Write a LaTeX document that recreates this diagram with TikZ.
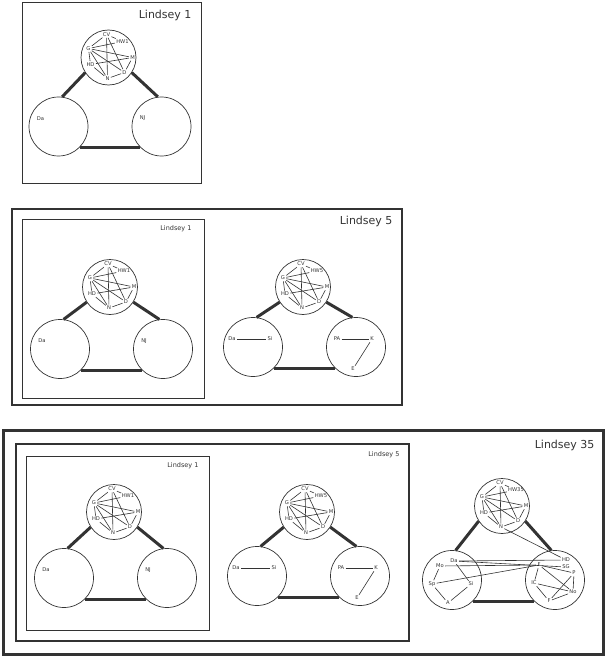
\documentclass[tikz,border=0pt]{standalone}
\usepackage{fontspec}
\setmainfont{DejaVu Sans}
\usetikzlibrary{calc}
\colorlet{ink}{black!80}

% hub circle with the seven people of the core group
\newcommand{\hubcluster}[4]{%
  \begin{scope}[shift={(#2,#3)}]
    \node[hub] (#1) at (0,0) {};
    \node[tag] (#1-CV) at (-2,-23) {CV};
    \node[tag] (#1-HW) at (14,-16) {#4};
    \node[tag] (#1-G) at (-20,-9) {G};
    \node[tag] (#1-M) at (24,0) {M};
    \node[tag] (#1-HD) at (-18,7) {HD};
    \node[tag] (#1-D) at (16,15) {D};
    \node[tag] (#1-N) at (-1,21) {N};
  \end{scope}
  \foreach \a/\b in {CV/HW,CV/G,CV/D,CV/N,G/HW,G/M,G/D,G/N,G/HD,HD/M,HD/N,N/D,D/M}
    \draw[link] (#1-\a) -- (#1-\b);
}
% hub plus two lower circles
\newcommand{\triad}[5]{%
  \hubcluster{#1-t}{#2}{#3}{#5}
  \node[pod] (#1-l) at (#2-50,#3+#4) {};
  \node[pod] (#1-r) at (#2+53,#3+#4) {};
  \draw[bond] (#1-t.-147) -- (#1-l.83);
  \draw[bond] (#1-t.-33) -- (#1-r.97);
  \draw[bond] (#1-l.-45) -- (#1-r.-135);
}
\newcommand{\lindseyone}[4]{%
  \triad{#1}{#2}{#3}{#4}{HW1}
  \node[tag] (#1-Da) at ($(#1-l)+(-18,-8)$) {Da};
  \node[tag] (#1-NJ) at ($(#1-r)+(-19,-8)$) {NJ};
}
\newcommand{\lindseyfive}[4]{%
  \triad{#1}{#2}{#3}{#4}{HW5}
  \node[tag] (#1-Da) at ($(#1-l)+(-21,-8)$) {Da};
  \node[tag] (#1-Si) at ($(#1-l)+(17,-8)$) {Si};
  \node[tag] (#1-PA) at ($(#1-r)+(-19,-8)$) {PA};
  \node[tag] (#1-K) at ($(#1-r)+(16,-8)$) {K};
  \node[tag] (#1-E) at ($(#1-r)+(-3,22)$) {E};
  \draw[link] (#1-Da) -- (#1-Si);
  \draw[link] (#1-PA) -- (#1-K);
  \draw[link] (#1-K) -- (#1-E);
}

\begin{document}
\begin{tikzpicture}[x=1pt, y=-1pt,
  hub/.style={circle, draw=ink, line width=0.7pt, minimum size=55pt, inner sep=0pt},
  pod/.style={circle, draw=ink, line width=0.7pt, minimum size=59pt, inner sep=0pt},
  tag/.style={font=\fontsize{5.2}{5.2}\selectfont, text=ink, inner sep=0.7pt},
  link/.style={draw=ink, line width=0.6pt, shorten <=0.5pt, shorten >=0.5pt},
  bond/.style={draw=ink, line width=3pt},
  panelbox/.style={draw=ink, line width=#1},
  heading/.style={font=\fontsize{11}{11}\selectfont, text=ink, anchor=east},
  subheading/.style={font=\fontsize{6.5}{6.5}\selectfont, text=ink, anchor=east}]
\useasboundingbox (0,0) rectangle (606,658);

% Lindsey 1
\draw[panelbox=0.9pt] (22,2) rectangle (201,183);
\node[heading] (p1-title) at (195,15) {Lindsey 1};
\lindseyone{p1}{108.5}{57.5}{69}

% Lindsey 5
\draw[panelbox=2pt] (12,209) rectangle (402,405);
\draw[panelbox=0.9pt] (22,219) rectangle (204,398);
\node[heading] (p2-title) at (396,221) {Lindsey 5};
\node[subheading] (p2-sub) at (195,229) {Lindsey 1};
\lindseyone{p2a}{110}{287}{62}
\lindseyfive{p2b}{303}{287}{60}

% Lindsey 35
\draw[panelbox=3pt] (3,430) rectangle (603,654);
\draw[panelbox=2pt] (16,444) rectangle (409,641);
\draw[panelbox=0.9pt] (26,456) rectangle (209,630);
\node[heading] (p3-title) at (598,445) {Lindsey 35};
\node[subheading] (p3-sub5) at (403,455) {Lindsey 5};
\node[subheading] (p3-sub1) at (202,466) {Lindsey 1};
\lindseyone{p3a}{114}{512}{66}
\lindseyfive{p3b}{307}{512}{64}
\triad{p3c}{502}{506}{74}{HW35}

% left circle of Lindsey 35
\node[tag] (p3c-Da) at ($(p3c-l)+(2,-19)$) {Da};
\node[tag] (p3c-Mo) at ($(p3c-l)+(-12,-14)$) {Mo};
\node[tag] (p3c-Sp) at ($(p3c-l)+(-20,4)$) {Sp};
\node[tag] (p3c-Si) at ($(p3c-l)+(19,4)$) {Si};
\node[tag] (p3c-A) at ($(p3c-l)+(-4,23)$) {A};
% right circle of Lindsey 35
\node[tag] (p3c-HD) at ($(p3c-r)+(11,-20)$) {HD};
\node[tag] (p3c-SG) at ($(p3c-r)+(11,-13)$) {SG};
\node[tag] (p3c-F) at ($(p3c-r)+(-16,-15)$) {F};
\node[tag] (p3c-P) at ($(p3c-r)+(19,-7)$) {P};
\node[tag] (p3c-IC) at ($(p3c-r)+(-21,3)$) {IC};
\node[tag] (p3c-No) at ($(p3c-r)+(18,12)$) {No};
\node[tag] (p3c-Fb) at ($(p3c-r)+(-6,21)$) {F};

\foreach \a/\b in {Mo/Sp,Sp/A,A/Si,Si/Da,F/IC,F/No,F/P,IC/No,IC/Fb,P/No,P/Fb,Fb/No,
                   Da/HD,Da/SG,Mo/F,Sp/F}
  \draw[link] (p3c-\a) -- (p3c-\b);
\draw[link] (p3c-t-N) -- (p3c-HD);
\end{tikzpicture}
\end{document}
